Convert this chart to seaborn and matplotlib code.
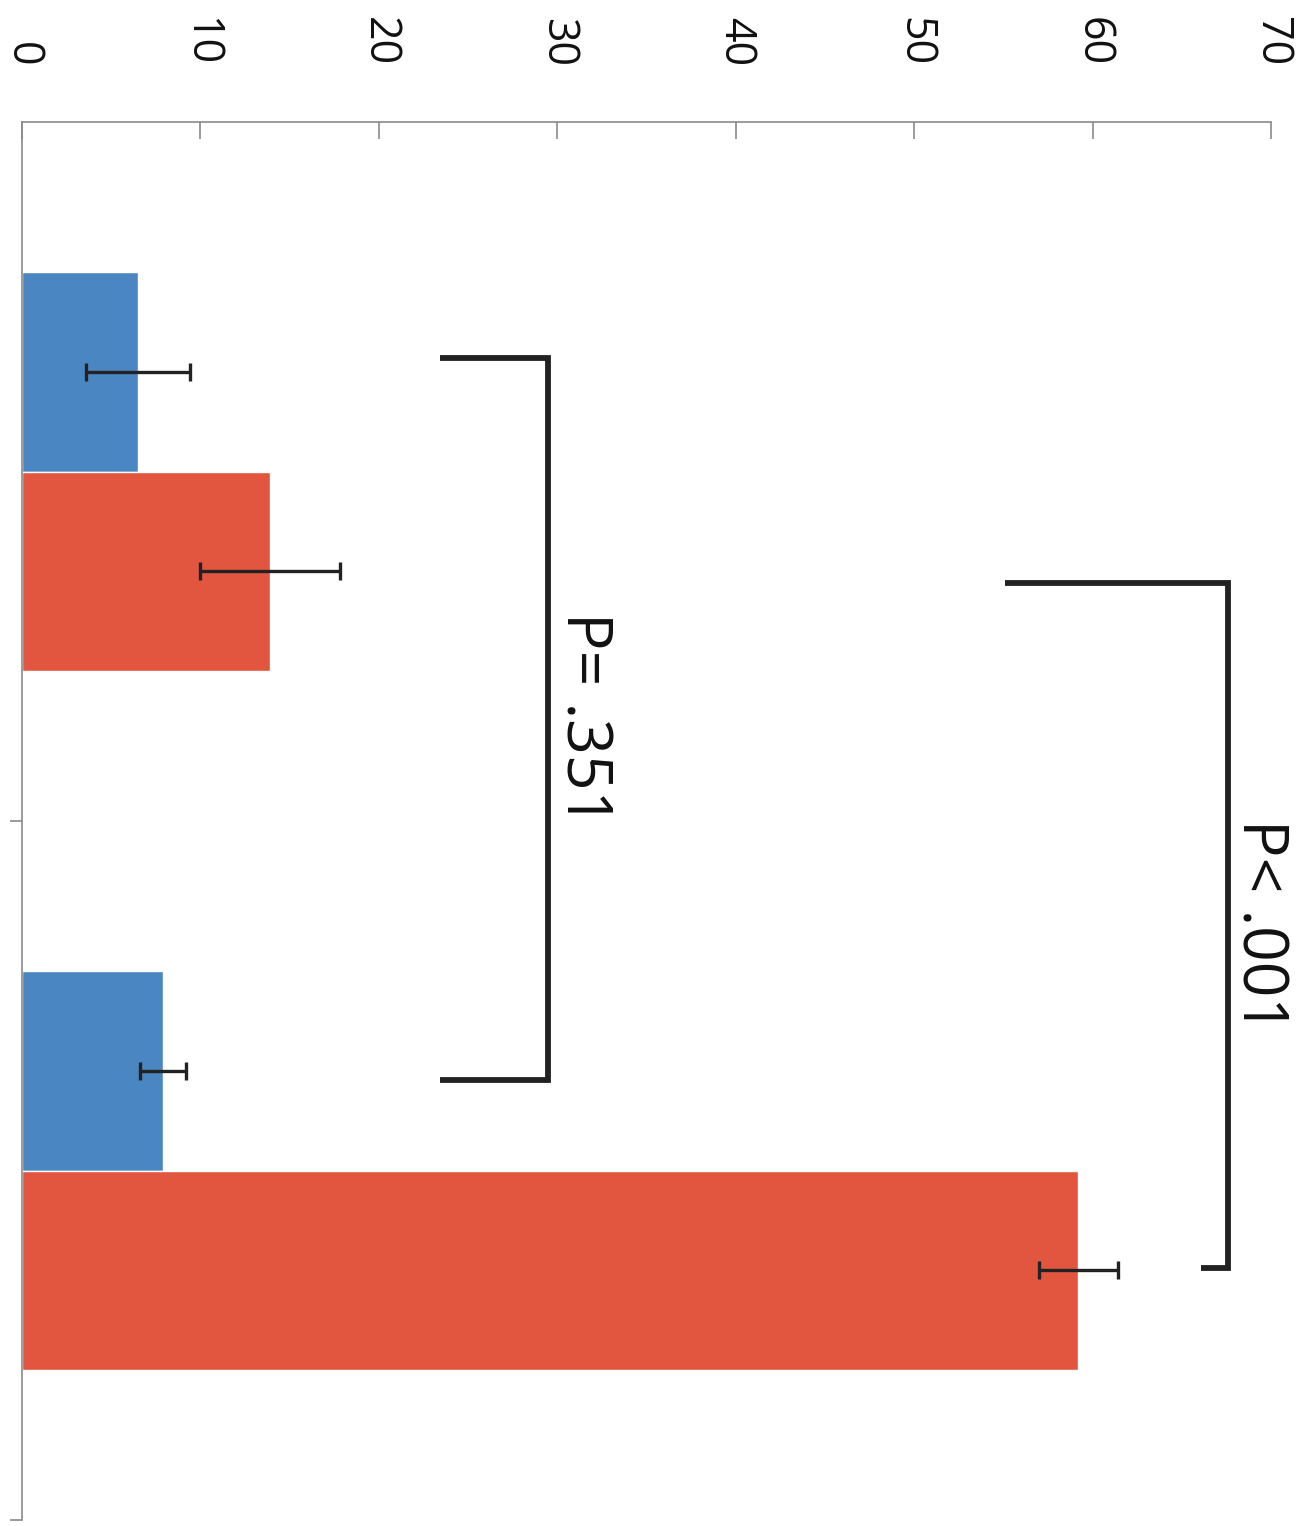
import numpy as np
import pandas as pd
import matplotlib
matplotlib.use("Agg")
import matplotlib.pyplot as plt
import seaborn as sns

# values (rotated Excel style bar chart)
groups = ["Group 1", "Group 2"]
conditions = ["Blue", "Red"]
blue_vals = [6.5, 7.9]
red_vals = [13.9, 59.2]
blue_err = [2.9, 1.3]
red_err = [3.9, 2.2]
x_ticks = [0, 10, 20, 30, 40, 50, 60, 70]

BLUE = "#4a87c2"
RED = "#e2563f"
DARK = "#222222"
AXIS_GREY = "#8a8a8a"

df = pd.DataFrame({
    "group": groups * 2,
    "condition": [conditions[0]] * 2 + [conditions[1]] * 2,
    "value": blue_vals + red_vals,
})
errs = {conditions[0]: blue_err, conditions[1]: red_err}

sns.set_style("white")
plt.rcParams["font.family"] = ["Open Sans", "DejaVu Sans"]

fig = plt.figure(figsize=(13.11, 15.26), dpi=100)
ax = fig.add_axes([0.0168, 0.0039, 0.9527, 0.9161])

sns.barplot(data=df, x="value", y="group", hue="condition",
            hue_order=conditions, order=groups, orient="h",
            palette=[BLUE, RED], width=4 / 7, errorbar=None,
            saturation=1, legend=False, ax=ax)

# error bars on each bar
for cond, cont in zip(conditions, ax.containers):
    for patch, err in zip(cont.patches, errs[cond]):
        yc = patch.get_y() + patch.get_height() / 2
        ax.errorbar(patch.get_width(), yc, xerr=err, fmt="none",
                    ecolor=DARK, elinewidth=2.4, capsize=6.5, capthick=2.4,
                    zorder=5)

ax.set_xlim(0, 70)
ax.set_ylim(1.5, -0.5)
ax.set_xticks(x_ticks)
ax.xaxis.tick_top()
ax.tick_params(axis="x", direction="in", length=12, width=1.2,
               color=AXIS_GREY, labelsize=31, pad=40, labelrotation=-90,
               labelcolor="#111111")
ax.set_yticks([0.5, 1.5])
ax.set_yticklabels([])
ax.tick_params(axis="y", direction="out", length=9, width=1.2,
               color=AXIS_GREY, left=True)
ax.set_xlabel("")
ax.set_ylabel("")
for side in ["bottom", "right"]:
    ax.spines[side].set_visible(False)
for side in ["top", "left"]:
    ax.spines[side].set_color(AXIS_GREY)
    ax.spines[side].set_linewidth(1.2)

# significance brackets (arms can have different lengths)
def bracket(x0_top, x0_bot, x1, y0, y1, label, tx, ty):
    ax.plot([x0_top, x1, x1, x0_bot], [y0, y0, y1, y1], color=DARK, lw=4.2,
            solid_joinstyle="miter", solid_capstyle="butt",
            clip_on=False, zorder=6)
    ax.text(tx, ty, label, rotation=-90, ha="center", va="center",
            fontsize=45, color="#111111", clip_on=False)

bracket(23.4, 23.4, 29.5, -0.163, 0.871, "P= .351", 31.4, 0.354)
bracket(55.1, 66.1, 67.6, 0.159, 1.140, "P< .001", 69.3, 0.650)

fig.savefig("out.png", dpi=100)
